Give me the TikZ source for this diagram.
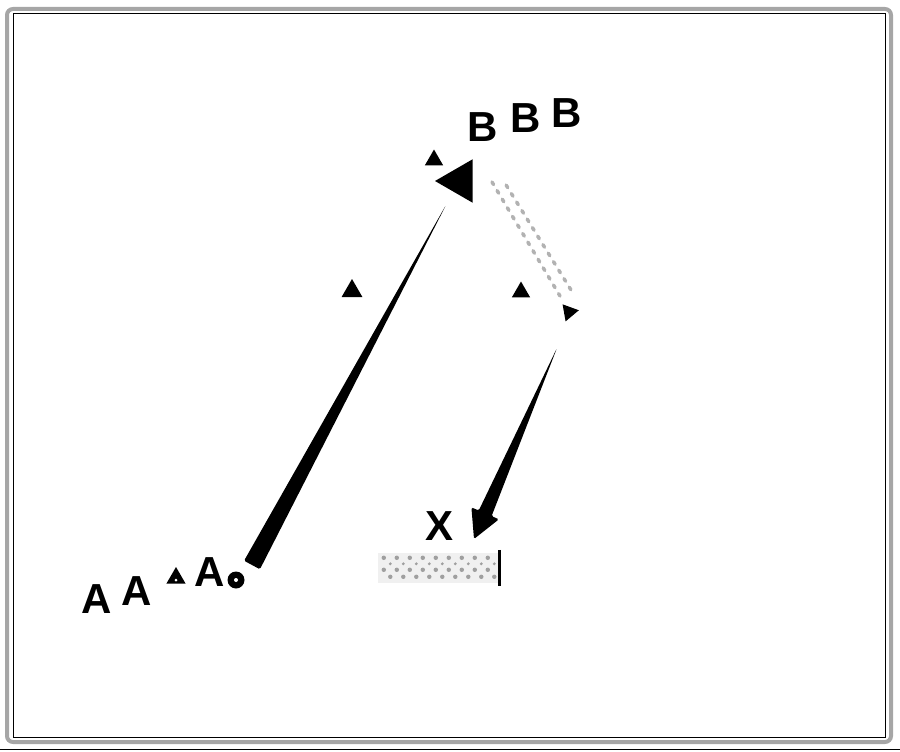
\documentclass[tikz,border=0pt]{standalone}
\usepackage{fontspec}
\setmainfont{Liberation Sans}
\usetikzlibrary{calc,shapes.geometric}
\begin{document}
\begin{tikzpicture}[x=1pt,y=-1pt,
  letter/.style={font=\fontsize{42}{42}\selectfont\bfseries, inner sep=0pt, anchor=center},
  tri/.style={regular polygon, regular polygon sides=3, fill=black, inner sep=0pt, minimum size=#1},
  dotc/.style={circle, fill=black, inner sep=0pt, minimum size=#1},
  wedge/.style={fill=black, rounded corners=1.5pt},
  faint/.style={gray!60, line width=3.5pt, dash pattern=on 3pt off 7pt, line cap=round},
  hatchdot/.style={fill=gray!75}
]
\useasboundingbox (0,0) rectangle (900,752);
% frame
\draw[gray!70, line width=4pt, rounded corners=6pt] (7,9) rectangle (891,742);
\draw[black, line width=0.9pt] (13,13) rectangle (885,737);
\draw[black, line width=0.9pt] (0,749) -- (900,749);

% letters A
\node[letter] (a1) at (97,599) {A};
\node[letter] (a2) at (137,591) {A};
\node[tri=22pt] (ta) at (176,578) {};
\node[dotc=3pt, fill=white] at (176,580) {};
\node[letter] (a3) at (210,572) {A};
\node[dotc=17pt] (c) at (236,580) {};
\node[dotc=4pt, fill=white] at (236,580) {};

% letters B
\node[letter] (b1) at (483,127) {B};
\node[letter] (b2) at (526,118) {B};
\node[letter] (b3) at (567,113) {B};

% triangles
\node[tri=21pt] (tb) at (434,160) {};
\node[tri=50pt, shape border rotate=90] (big) at (460,181) {};
\node[tri=24pt] (tl) at (352,291) {};
\node[tri=21pt] (tm) at (521,292) {};
\node[tri=20pt, shape border rotate=160] (tr) at (569,312) {};

% X and hatched box
\node[letter] (x) at (440,526) {X};
\node[draw=none, fill=gray!12, minimum width=120pt, minimum height=30pt, inner sep=0pt] (box) at (438,568) {};
\begin{scope}
  \clip (box.south west) rectangle (box.north east);
  \foreach \i in {0,...,9} {
    \fill[hatchdot] ($(box.north west)+(\i*13+6,5)$) circle (2.2pt);
    \fill[hatchdot] ($(box.north west)+(\i*13+12.5,11)$) circle (1.6pt);
    \fill[hatchdot] ($(box.north west)+(\i*13+6,17)$) circle (2.2pt);
    \fill[hatchdot] ($(box.north west)+(\i*13+12.5,24)$) circle (2.2pt);
  }
\end{scope}
\draw[line width=3pt] ($(box.north east)+(1,-3)$) -- ($(box.south east)+(1,3)$);

% thick wedge from circle to big triangle
\coordinate (s1) at (252,565);
\coordinate (e1) at (446,205);
\fill[wedge] ($(s1)!9pt!90:(e1)$) -- (e1) -- ($(s1)!9pt!-90:(e1)$) -- cycle;

% faint dotted path from big triangle to right triangle
\draw[faint] (492,182) -- (560,296);
\draw[faint, dash phase=4pt] (503,180) -- (571,290);

% arrow to X
\coordinate (s2) at (557,348);
\coordinate (tip) at (474,539);
\coordinate (hb) at ($(tip)!28pt!(s2)$);
\fill[wedge] (s2) -- ($(hb)!7pt!90:(s2)$) -- ($(hb)!15pt!90:(s2)$) -- (tip)
  -- ($(hb)!15pt!-90:(s2)$) -- ($(hb)!7pt!-90:(s2)$) -- cycle;
\end{tikzpicture}
\end{document}
